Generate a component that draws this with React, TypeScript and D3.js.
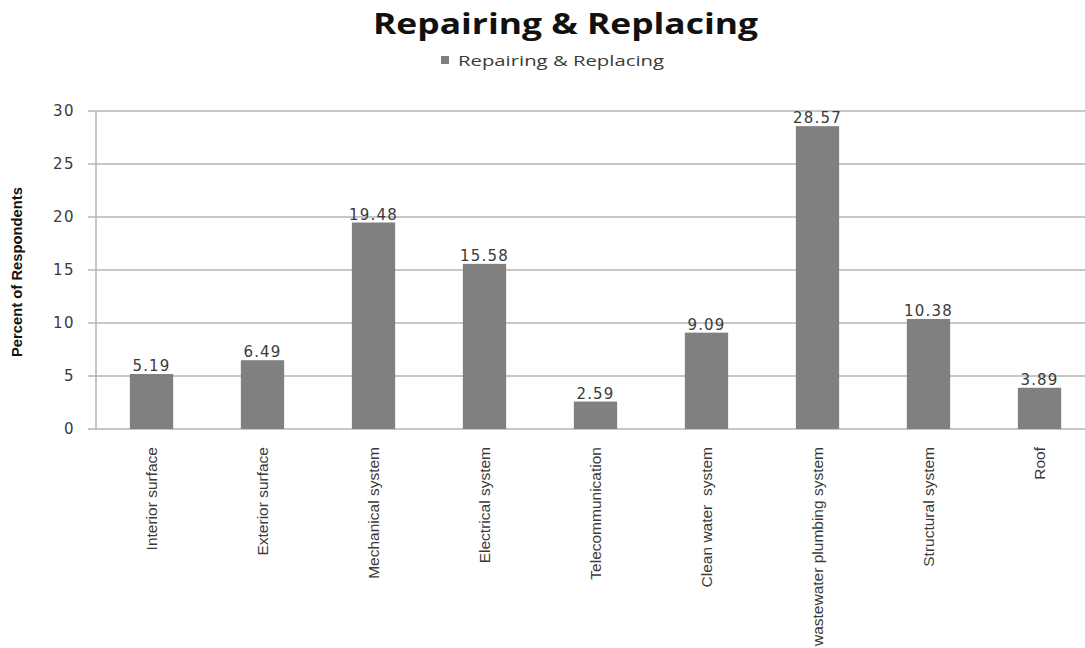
import React from "react";
import * as d3 from "d3";

// Survey results: share of respondents per building component
const categories: string[] = [
  "Interior surface",
  "Exterior surface",
  "Mechanical system",
  "Electrical system",
  "Telecommunication",
  "Clean water  system",
  "wastewater plumbing system",
  "Structural system",
  "Roof",
];
const values: number[] = [5.19, 6.49, 19.48, 15.58, 2.59, 9.09, 28.57, 10.38, 3.89];
const yTicks: number[] = [0, 5, 10, 15, 20, 25, 30];

const seriesName = "Repairing & Replacing";
const chartTitle = "Repairing & Replacing";
const yAxisTitle = "Percent of Respondents";

const W = 1085;
const H = 648;
const plot = { left: 96, right: 1095, top: 111, bottom: 429 };

const BAR = "#808080";
const GRID = "#b4b4b4";
const TEXT = "#3a3a3a";

export default function App() {
  const x = d3
    .scaleBand<string>()
    .domain(categories)
    .range([plot.left, plot.right])
    .paddingInner(0.61)
    .paddingOuter(0.305);
  const y = d3.scaleLinear().domain([0, 30]).range([plot.bottom, plot.top]);

  return (
    <svg
      width={W}
      height={H}
      style={{ position: "absolute", left: 0, top: 0, background: "#fff" }}
    >
      {/* title */}
      <text
        x={373}
        y={34}
        fontFamily="'Open Sans', sans-serif"
        fontWeight={700}
        fontSize={29}
        textLength={385}
        lengthAdjust="spacingAndGlyphs"
        fill="#111"
      >
        {chartTitle}
      </text>

      {/* legend */}
      <rect x={441} y={56} width={8} height={8} fill={BAR} />
      <text
        x={458}
        y={66}
        fontFamily="'Open Sans', sans-serif"
        fontSize={15}
        textLength={206}
        lengthAdjust="spacingAndGlyphs"
        fill={TEXT}
      >
        {seriesName}
      </text>

      {/* gridlines and y ticks */}
      {yTicks.map((t) => (
        <g key={t}>
          <line
            x1={88}
            x2={W}
            y1={y(t)}
            y2={y(t)}
            stroke={GRID}
            strokeWidth={1.5}
          />
          <text
            x={75}
            y={y(t)}
            dy="0.36em"
            textAnchor="end"
            fontFamily="'DejaVu Sans', sans-serif"
            fontSize={15}
            letterSpacing={1.5}
            fill={TEXT}
          >
            {t}
          </text>
        </g>
      ))}
      <line
        x1={plot.left}
        x2={plot.left}
        y1={plot.top}
        y2={plot.bottom}
        stroke={GRID}
        strokeWidth={1.5}
      />

      {/* y axis title */}
      <text
        transform={`translate(22,${(plot.top + plot.bottom) / 2 + 2}) rotate(-90)`}
        textAnchor="middle"
        fontFamily="'Liberation Sans Narrow', 'Liberation Sans', sans-serif"
        fontWeight={700}
        fontSize={14}
        textLength={170}
        lengthAdjust="spacingAndGlyphs"
        fill="#111"
      >
        {yAxisTitle}
      </text>

      {/* bars */}
      {categories.map((c, i) => (
        <rect
          key={c}
          x={x(c)}
          y={y(values[i])}
          width={x.bandwidth()}
          height={plot.bottom - y(values[i])}
          fill={BAR}
        />
      ))}

      {/* value labels */}
      {categories.map((c, i) => (
        <text
          key={c}
          x={(x(c) as number) + x.bandwidth() / 2}
          y={y(values[i]) - 3}
          textAnchor="middle"
          fontFamily="'DejaVu Sans', sans-serif"
          fontSize={15}
          letterSpacing={1.2}
          fill={TEXT}
        >
          {values[i].toFixed(2)}
        </text>
      ))}

      {/* category labels */}
      {categories.map((c) => (
        <text
          key={c}
          transform={`translate(${(x(c) as number) + x.bandwidth() / 2},447) rotate(-90)`}
          dy="0.35em"
          textAnchor="end"
          fontFamily="'Liberation Sans Narrow', 'Liberation Sans', sans-serif"
          fontSize={15.5}
          fill={TEXT}
          style={{ whiteSpace: "pre" }}
        >
          {c}
        </text>
      ))}
    </svg>
  );
}
